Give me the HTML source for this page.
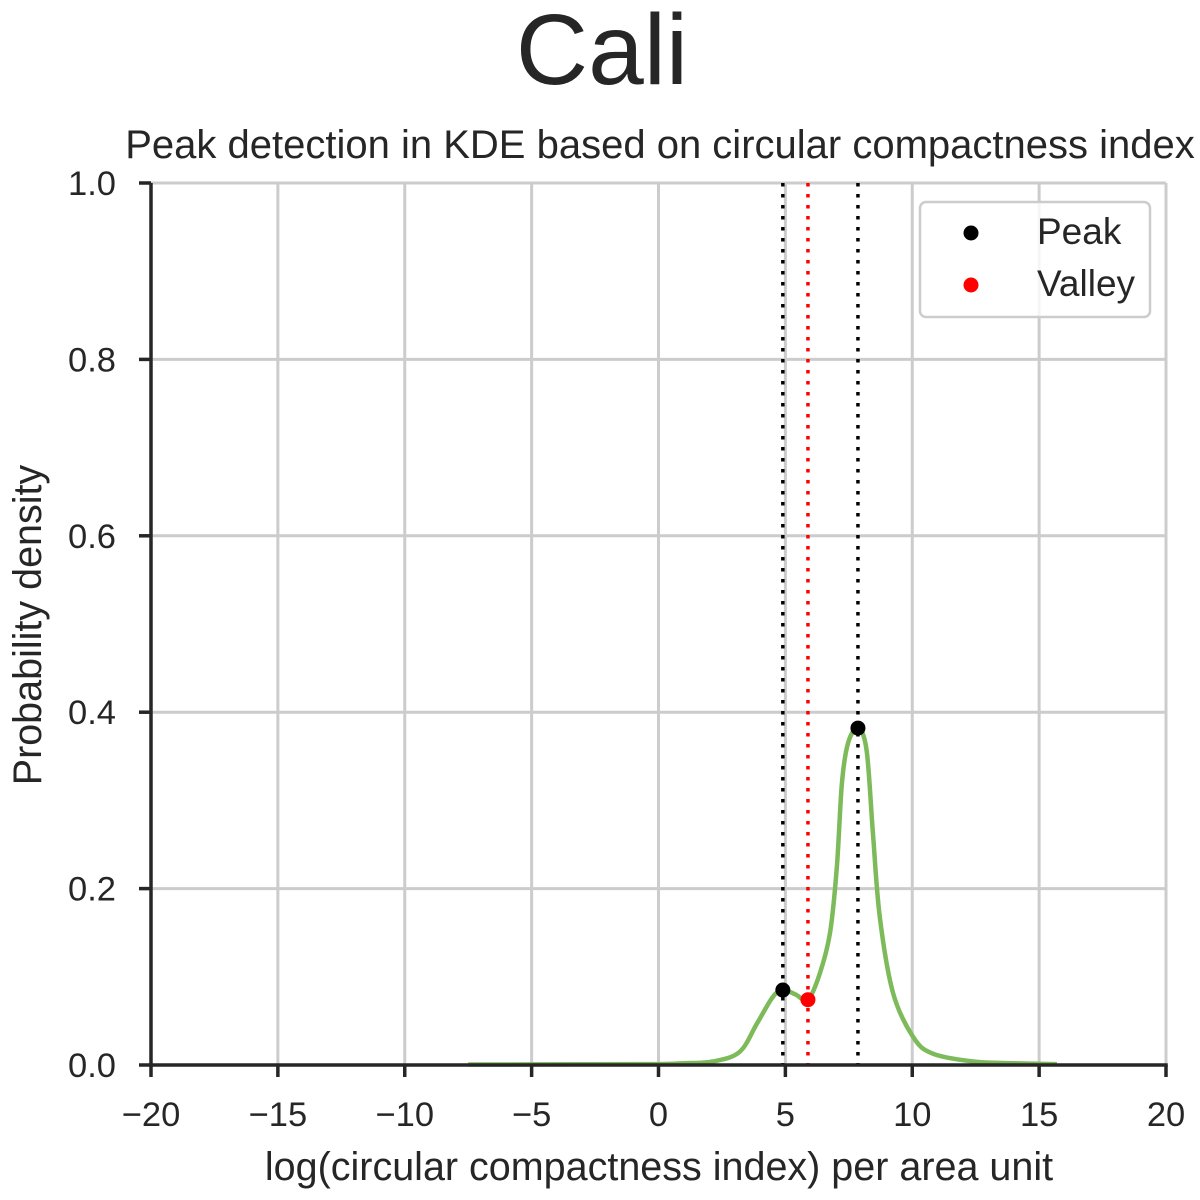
<!DOCTYPE html>
<html><head><meta charset="utf-8"><style>
html,body{margin:0;padding:0;background:#fff;}
svg{display:block;font-family:"Liberation Sans",Arial,sans-serif;}
</style></head><body>
<svg id="chart" width="1200" height="1200" viewBox="0 0 1200 1200">
<text x="602" y="84" font-size="100" text-anchor="middle" fill="#262626">Cali</text>
<text x="660" y="158" font-size="40" text-anchor="middle" fill="#262626">Peak detection in KDE based on circular compactness index</text>
<g id="grid"></g>
<g id="lines"></g>
<path id="kde" fill="none" stroke="#7dba5a" stroke-width="4.5" stroke-linejoin="round"></path>
<g id="points"></g>
<g id="axes"></g>
<text x="659" y="1180" font-size="39.5" text-anchor="middle" fill="#262626">log(circular compactness index) per area unit</text>
<text transform="translate(41,625) rotate(-90)" font-size="39.5" text-anchor="middle" fill="#262626">Probability density</text>
<g>
<rect x="920" y="202" width="230" height="115" rx="6" fill="rgba(255,255,255,0.8)" stroke="#cccccc" stroke-width="2.5"/>
<circle cx="971" cy="233" r="7.5" fill="#000"/>
<text x="1037" y="244" font-size="37" fill="#262626">Peak</text>
<circle cx="971" cy="285" r="7.5" fill="#ff0000"/>
<text x="1037" y="296" font-size="37" fill="#262626">Valley</text>
</g>
</svg>
<script>
const xTicks=[-20,-15,-10,-5,0,5,10,15,20];
const yTicks=[0,0.2,0.4,0.6,0.8,1.0];
const yTickLabels=["0.0","0.2","0.4","0.6","0.8","1.0"];
const kdeX=[-7.5,-3,0,1,2.15,3.2,3.88,4.5,4.9,5.4,5.89,6.36,6.76,7.03,7.23,7.47,7.86,8.2,8.45,8.72,9.24,10.03,10.8,12.4,14,15.7];
const kdeY=[0.0005,0.0008,0.001,0.002,0.004,0.015,0.047,0.077,0.085,0.08,0.074,0.104,0.15,0.225,0.32,0.365,0.382,0.357,0.263,0.168,0.082,0.032,0.013,0.004,0.002,0.001];
const peakX=[4.9,7.86];
const peakY=[0.085,0.382];
const valleyX=[5.89];
const valleyY=[0.074];
const NS="http://www.w3.org/2000/svg";
const X0=151,X1=1166,Y0=1065,Y1=183;
function sx(v){return X0+(v+20)/40*(X1-X0);}
function sy(v){return Y0-v*(Y0-Y1);}
function mk(tag,attrs,parent){const e=document.createElementNS(NS,tag);for(const k in attrs)e.setAttribute(k,attrs[k]);parent.appendChild(e);return e;}
const grid=document.getElementById('grid'),axes=document.getElementById('axes'),lines=document.getElementById('lines'),pts=document.getElementById('points');
xTicks.forEach(t=>{
 const g=mk('line',{x1:sx(t),x2:sx(t),y1:Y1,y2:Y0,stroke:'#cccccc','stroke-width':3},grid);
 
 
 const tk=mk('line',{x1:sx(t),x2:sx(t),y1:Y0,y2:Y0+12,stroke:'#262626','stroke-width':3.5},axes);
 
 
 const tx=mk('text',{x:sx(t),y:1126,'font-size':34.5,'text-anchor':'middle',fill:'#262626'},axes);
 tx.textContent=(t<0?'\u2212'+(-t):String(t));
 
 
});
yTicks.forEach((t,i)=>{
 const g=mk('line',{x1:X0,x2:X1,y1:sy(t),y2:sy(t),stroke:'#cccccc','stroke-width':3},grid);
 
 
 const tk=mk('line',{x1:X0-12,x2:X0,y1:sy(t),y2:sy(t),stroke:'#262626','stroke-width':3.5},axes);
 
 
 const tx=mk('text',{x:116,y:sy(t)+12,'font-size':34.5,'text-anchor':'end',fill:'#262626'},axes);
 tx.textContent=yTickLabels[i];
 
 
});
const sp1=mk('line',{x1:X0,x2:X0,y1:Y1,y2:Y0+1.75,stroke:'#262626','stroke-width':3.5},axes);


const sp2=mk('line',{x1:X0-1.75,x2:X1+1.75,y1:Y0,y2:Y0,stroke:'#262626','stroke-width':3.5},axes);


const P=kdeX.map((x,i)=>[sx(x),sy(kdeY[i])]);
let d='M'+P[0][0]+','+P[0][1];
for(let i=0;i<P.length-1;i++){const p0=P[Math.max(0,i-1)],p1=P[i],p2=P[i+1],p3=P[Math.min(P.length-1,i+2)];
 const c1=[p1[0]+(p2[0]-p0[0])/6,p1[1]+(p2[1]-p0[1])/6],c2=[p2[0]-(p3[0]-p1[0])/6,p2[1]-(p3[1]-p1[1])/6];
 d+=' C'+c1+' '+c2+' '+p2;}
document.getElementById('kde').setAttribute('d',d);
peakX.forEach((x,i)=>{
 const l=mk('line',{x1:sx(x),x2:sx(x),y1:Y1,y2:Y0,stroke:'#000','stroke-width':3.5,'stroke-dasharray':'3.5 7.5'},lines);
 
 
 const c=mk('circle',{cx:sx(x),cy:sy(peakY[i]),r:7.5,fill:'#000'},pts);
 
 
});
valleyX.forEach((x,i)=>{
 const l=mk('line',{x1:sx(x),x2:sx(x),y1:Y1,y2:Y0,stroke:'#ff0000','stroke-width':3.5,'stroke-dasharray':'3.5 7.5'},lines);
 
 
 const c=mk('circle',{cx:sx(x),cy:sy(valleyY[i]),r:7.5,fill:'#ff0000'},pts);
 
 
});
</script>
</body></html>
